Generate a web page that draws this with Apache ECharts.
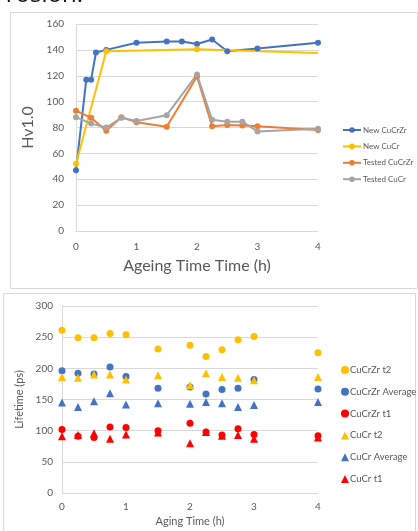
<!DOCTYPE html>
<html><head><meta charset="utf-8">
<script src="https://cdn.jsdelivr.net/npm/echarts@6/dist/echarts.min.js"></script>
<style>html,body{margin:0;padding:0;background:#fff}#c{width:418px;height:531px}</style>
</head><body><div id="c"></div>
<script>
// Top chart: hardness
const newCuCrZrTime = [0,0.17,0.25,0.33,0.5,1,1.5,1.75,2,2.25,2.5,3,4];
const newCuCrZrHv = [47,117,117,138,140,145.5,146.5,146.5,144.5,148,139,141,145.5];
const newCuCrTime = [0,0.5,2,4];
const newCuCrHv = [52,139,140.5,137.5];
const testedTime = [0,0.25,0.5,0.75,1,1.5,2,2.25,2.5,2.75,3,4];
const testedCuCrZrHv = [93,87.5,77.5,88,84,80.5,119.5,81,82,81.5,81,78];
const testedCuCrHv = [88,83,80,87.5,85,89.5,121,86,84.5,84.5,77,79];
const hvTicks = [0,20,40,60,80,100,120,140,160];
const timeTicks = [0,1,2,3,4];

// Bottom chart: lifetime
const agingTime = [0,0.25,0.5,0.75,1,1.5,2,2.25,2.5,2.75,3,4];
const cucrzrT2 = [261,249,249,256,254,231,237,219,230,246,251,225];
const cucrzrAvg = [196,192,191,202,187,168,170,159,166,168,182,167];
const cucrzrT1 = [102,91,89,106,105,100,112,98,93,103,94,92];
const cucrT2 = [186,185,190,190,182,189,173,192,186,185,181,186];
const cucrAvg = [145,138,147,160,142,144,143,146,144,138,141,146];
const cucrT1 = [91,93,96,87,94,97,80,98,92,93,87,89];
const lifeTicks = [0,50,100,150,200,250,300];

const FONT = 'Lato';
const GREY = '#595959';
const pair = (xs, ys) => xs.map((x, i) => [x, ys[i]]);

const chart = echarts.init(document.getElementById('c'), null, {renderer: 'canvas'});

function lineSeries(name, xs, ys, color, hideLast) {
  const data = pair(xs, ys).map((p, i) => (hideLast && i === xs.length - 1) ? {value: p, symbol: 'none'} : p);
  return {name, type: 'line', xAxisIndex: 0, yAxisIndex: 0, data, symbol: 'circle', symbolSize: 6,
    lineStyle: {color, width: 2}, itemStyle: {color}, animation: false};
}
function scatterSeries(name, xs, ys, color, symbol) {
  return {name, type: 'scatter', xAxisIndex: 1, yAxisIndex: 1, data: pair(xs, ys), symbol,
    symbolSize: symbol === 'triangle' ? 8 : 7, itemStyle: {color, opacity: 1}, animation: false};
}

const axisCommon = {
  axisLine: {show: true, lineStyle: {color: '#D9D9D9'}},
  axisTick: {show: false},
  splitLine: {show: true, lineStyle: {color: '#D9D9D9'}},
};

chart.setOption({
  animation: false,
  textStyle: {fontFamily: FONT},
  graphic: [
    {type: 'rect', shape: {x: 10.5, y: 12.5, width: 407, height: 276}, style: {fill: 'none', stroke: '#D9D9D9', lineWidth: 1}},
    {type: 'rect', shape: {x: 3.5, y: 293.5, width: 412, height: 250}, style: {fill: 'none', stroke: '#D9D9D9', lineWidth: 1}},
    {type: 'text', left: -4, top: -17, style: {text: 'rrosion:', font: '24px "Open Sans"', fill: '#111'}}
  ],
  grid: [
    {left: 76, top: 24, width: 242, height: 207},
    {left: 62, top: 306, width: 256, height: 187}
  ],
  xAxis: [
    Object.assign({}, axisCommon, {gridIndex: 0, type: 'value', min: 0, max: 4, interval: 1,
      splitLine: {show: false},
      axisLabel: {color: GREY, fontSize: 10, margin: 11, fontFamily: FONT, formatter: v => timeTicks.includes(v) ? String(v) : ''},
      name: 'Ageing Time Time (h)', nameLocation: 'middle', nameGap: 27,
      nameTextStyle: {color: GREY, fontSize: 16, fontFamily: FONT}}),
    Object.assign({}, axisCommon, {gridIndex: 1, type: 'value', min: 0, max: 4, interval: 1,
      splitLine: {show: false},
      axisLabel: {color: GREY, fontSize: 10, margin: 9, fontFamily: FONT},
      name: 'Aging Time (h)', nameLocation: 'middle', nameGap: 23,
      nameTextStyle: {color: GREY, fontSize: 11, fontFamily: FONT}})
  ],
  yAxis: [
    Object.assign({}, axisCommon, {gridIndex: 0, type: 'value', min: 0, max: 160, interval: 20,
      axisLabel: {color: GREY, fontSize: 10, margin: 12, fontFamily: FONT, formatter: v => hvTicks.includes(v) ? String(v) : ''},
      name: 'Hv1.0', nameLocation: 'middle', nameGap: 33,
      nameTextStyle: {color: GREY, fontSize: 16, fontFamily: FONT}}),
    Object.assign({}, axisCommon, {gridIndex: 1, type: 'value', min: 0, max: 300, interval: 50,
      axisLabel: {color: GREY, fontSize: 10, margin: 9, fontFamily: FONT, formatter: v => lifeTicks.includes(v) ? String(v) : ''},
      name: 'Lifetime (ps)', nameLocation: 'middle', nameGap: 29,
      nameTextStyle: {color: GREY, fontSize: 11, fontFamily: FONT}})
  ],
  legend: [
    {orient: 'vertical', left: 337, top: 121, itemWidth: 18, itemHeight: 7, itemGap: 8.4,
      textStyle: {color: GREY, fontSize: 8, fontFamily: FONT, padding: [0, 0, 0, -3]},
      data: ['New CuCrZr', 'New CuCr', 'Tested CuCrZr', 'Tested CuCr']},
    {orient: 'vertical', left: 336, top: 360, itemWidth: 8, itemHeight: 8, itemGap: 11.8,
      textStyle: {color: GREY, fontSize: 9.5, fontFamily: FONT, padding: [0, 0, 0, -4]},
      data: ['CuCrZr t2', 'CuCrZr Average', 'CuCrZr t1', 'CuCr t2', 'CuCr Average', 'CuCr t1']}
  ],
  series: [
    lineSeries('New CuCrZr', newCuCrZrTime, newCuCrZrHv, '#4472C4', false),
    lineSeries('New CuCr', newCuCrTime, newCuCrHv, '#FFC000', true),
    lineSeries('Tested CuCrZr', testedTime, testedCuCrZrHv, '#ED7D31', false),
    lineSeries('Tested CuCr', testedTime, testedCuCrHv, '#A5A5A5', false),
    scatterSeries('CuCrZr t2', agingTime, cucrzrT2, '#FFC000', 'circle'),
    scatterSeries('CuCrZr Average', agingTime, cucrzrAvg, '#4472C4', 'circle'),
    scatterSeries('CuCrZr t1', agingTime, cucrzrT1, '#FF0000', 'circle'),
    scatterSeries('CuCr t2', agingTime, cucrT2, '#FFC000', 'triangle'),
    scatterSeries('CuCr Average', agingTime, cucrAvg, '#4472C4', 'triangle'),
    scatterSeries('CuCr t1', agingTime, cucrT1, '#FF0000', 'triangle')
  ]
});
</script></body></html>
